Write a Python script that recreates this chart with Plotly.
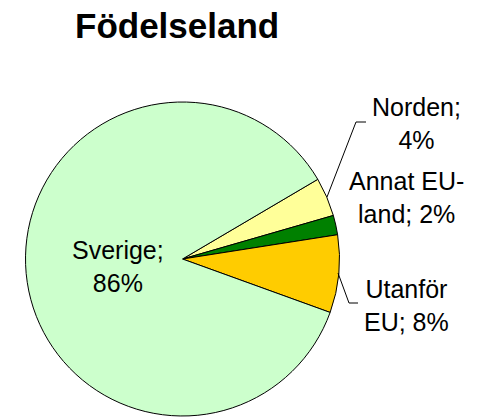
import plotly.graph_objects as go

categories = ["Norden", "Annat EU-land", "Utanför EU", "Sverige"]
values = [4, 2, 8, 86]
label_texts = ["Norden;<br>4%", "Annat EU-<br>land; 2%", "Utanför<br>EU; 8%", "Sverige;<br>86%"]
colors = ["#FFFF99", "#008000", "#FFCC00", "#CCFFCC"]

W, H = 479, 419
cx, cy, r = 182.5, 259.0, 157

fig = go.Figure(go.Pie(
    labels=categories,
    values=values,
    sort=False,
    direction="clockwise",
    rotation=59.5,
    marker=dict(colors=colors, line=dict(color="black", width=1)),
    textinfo="none",
    hoverinfo="label+percent",
    showlegend=False,
    domain=dict(x=[(cx - r) / W, (cx + r) / W], y=[(H - cy - r) / H, (H - cy + r) / H]),
))

def px(x):
    return x / W

def py(y):
    return 1 - y / H

label_pos = [(416, 124), (406, 197), (406, 305), (118, 266)]
font = dict(family="Liberation Sans, Arial, sans-serif", size=25, color="black")
annotations = []
for t, (x, y) in zip(label_texts, label_pos):
    annotations.append(dict(text=t, x=px(x), y=py(y), xref="paper", yref="paper",
                            xanchor="center", yanchor="middle", showarrow=False,
                            font=font, align="center"))

annotations.append(dict(text="<b>Födelseland</b>", x=px(177), y=py(26), xref="paper", yref="paper",
                        xanchor="center", yanchor="middle", showarrow=False,
                        font=dict(family="Liberation Sans, Arial, sans-serif", size=35, color="black")))

leaders = [
    [(327, 197), (356, 122), (366, 122)],
    [(338, 273), (349, 303), (358, 303)],
]
shapes = []
for pts in leaders:
    path = "M " + " L ".join(f"{px(x)},{py(y)}" for x, y in pts)
    shapes.append(dict(type="path", path=path, xref="paper", yref="paper",
                       line=dict(color="black", width=1)))

fig.update_layout(
    width=W, height=H,
    margin=dict(l=0, r=0, t=0, b=0),
    paper_bgcolor="white", plot_bgcolor="white",
    annotations=annotations, shapes=shapes,
)

fig.write_html("out.html", config={"displayModeBar": False},
               post_script="document.body.style.margin='0px';")
